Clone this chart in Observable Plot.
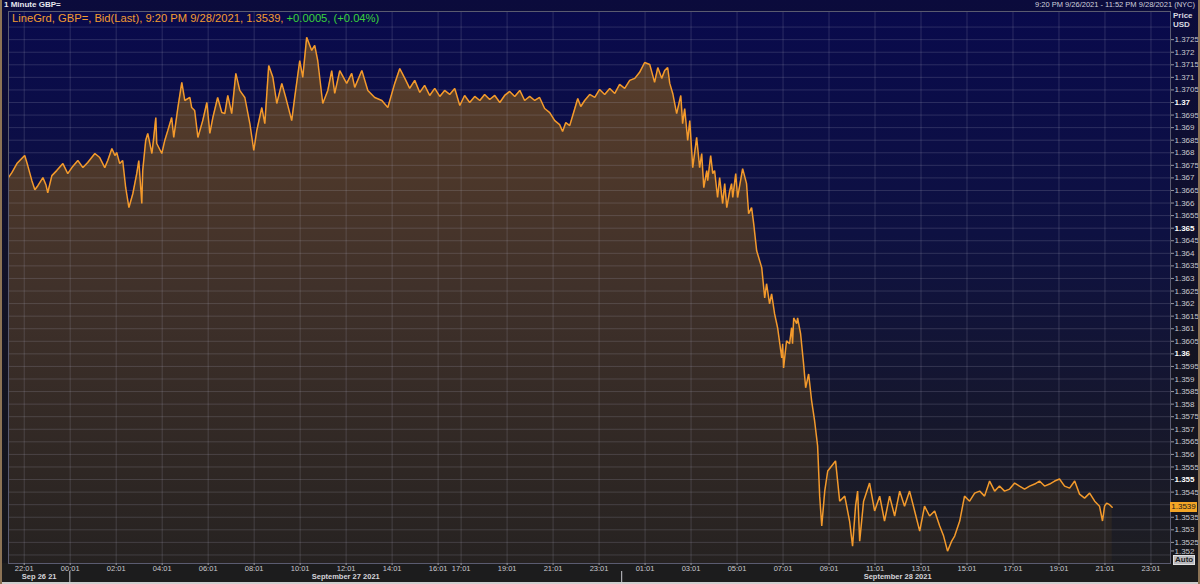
<!DOCTYPE html>
<html><head><meta charset="utf-8">
<script src="https://cdn.jsdelivr.net/npm/d3@7"></script>
<script src="https://cdn.jsdelivr.net/npm/@observablehq/plot@0.6"></script>
<style>
html,body{margin:0;padding:0;width:1200px;height:584px;overflow:hidden;background:#0c0c34;}
#wrap{position:relative;width:1200px;height:584px;background:linear-gradient(#0b0b3c,#131322 60%,#17171b);font-family:"Liberation Sans",Arial,sans-serif;}
#chart{position:absolute;left:0;top:0;}
#chart svg{display:block;overflow:visible}
.ov{position:absolute;white-space:nowrap;line-height:1;}
</style></head><body>
<div id="wrap">
  <div class="ov" style="left:0;top:563px;width:1200px;height:19px;background:#1c1c1d;"></div>
  <div id="chart"></div>
  <div class="ov" style="left:0;top:582px;width:1200px;height:2px;background:#cfcfcf;"></div>
  <div class="ov" style="left:0;top:0;width:2px;height:584px;background:#8c7355;"></div>
  <div class="ov" style="left:1198px;top:0;width:2px;height:584px;background:#8c7355;"></div>
  <div class="ov" style="left:4px;top:1px;font-size:8px;font-weight:bold;color:#e6e6ee;">1 Minute GBP=</div>
  <div class="ov" style="right:5px;top:1px;font-size:7.5px;color:#cfd0dc;">9:20 PM 9/26/2021 - 11:52 PM 9/28/2021 (NYC)</div>
  <div class="ov" style="left:1173px;top:12px;font-size:8px;font-weight:bold;color:#d8d8e0;">Price</div>
  <div class="ov" style="left:1173px;top:21px;font-size:8px;font-weight:bold;color:#d8d8e0;">USD</div>
  <div class="ov" style="left:12px;top:13px;font-size:11.2px;color:#f29b30;">LineGrd, GBP=, Bid(Last), 9:20 PM 9/28/2021, 1.3539, <span style="color:#3ad23a">+0.0005, (+0.04%)</span></div>
  <div class="ov" style="left:1173px;top:555px;font-size:8px;font-weight:bold;color:#1e1e1e;background:#b9b9bd;border:1px solid #e0e0e0;padding:0 1px;">Auto</div>
  <div class="ov" id="tag" style="left:1170px;width:27px;height:10px;font-size:8px;color:#1a1a1a;background:#f3a526;text-align:center;line-height:10px;">1.3539</div>
</div>
<script>
// [hours since 2021-09-27 00:00 (NYC), bid price]
const sessionSep26 = [[-2.67,1.36701],[-2.52,1.36721],[-2.30,1.36757],[-2.09,1.36777],[-1.96,1.36789],[-1.83,1.36749],[-1.65,1.36689],[-1.52,1.36653],[-1.39,1.36669],[-1.17,1.36701],
[-1.04,1.36673],[-0.96,1.36641],[-0.78,1.36709],[-0.57,1.36729],[-0.30,1.36757],[-0.09,1.36717]];
const sessionSep27 = [[0.09,1.36741],[0.35,1.36769],[0.57,1.36741],[0.78,1.36761],
[1.09,1.36797],[1.30,1.36781],[1.52,1.36741],[1.65,1.36769],[1.83,1.36817],[1.96,1.36789],[2.04,1.36801],[2.17,1.36757],[2.30,1.36769],[2.43,1.36661],
[2.57,1.36582],[2.74,1.36637],[2.91,1.36717],[3.00,1.36769],[3.13,1.36598],[3.17,1.36729],[3.30,1.36849],[3.39,1.36877],[3.57,1.36797],[3.65,1.36861],
[3.74,1.36940],[3.78,1.36837],[4.00,1.36797],[4.13,1.36849],[4.26,1.36888],[4.43,1.36940],[4.52,1.36861],[4.70,1.36980],[4.87,1.37080],[5.00,1.37008],
[5.22,1.37020],[5.30,1.36980],[5.43,1.36968],[5.57,1.36861],[5.78,1.36928],[5.96,1.37000],[6.09,1.36877],[6.22,1.36940],[6.43,1.37020],[6.61,1.36960],
[6.74,1.36956],[6.87,1.37028],[7.04,1.36956],[7.22,1.37116],[7.39,1.37048],[7.61,1.37020],[7.83,1.36916],[8.00,1.36809],[8.13,1.36888],[8.35,1.36980],
[8.48,1.36916],[8.65,1.37147],[8.83,1.37100],[9.00,1.36996],[9.22,1.37076],[9.39,1.37020],[9.65,1.36928],[9.78,1.37020],[10.00,1.37167],[10.13,1.37100],
[10.30,1.37259],[10.52,1.37207],[10.65,1.37227],[10.78,1.37167],[11.00,1.36996],[11.22,1.37048],[11.39,1.37127],[11.52,1.37036],[11.74,1.37127],[12.04,1.37076],
[12.26,1.37116],[12.39,1.37060],[12.70,1.37127],[12.96,1.37048],[13.26,1.37020],[13.57,1.37008],[13.83,1.36980],[14.13,1.37076],[14.35,1.37135],
[14.57,1.37096],[14.78,1.37056],[15.00,1.37088],[15.22,1.37040],[15.43,1.37068],[15.65,1.37028],[15.87,1.37056],[16.09,1.37024],[16.30,1.37048],[16.52,1.37032],
[16.74,1.37056],[16.96,1.36988],[17.17,1.37028],[17.39,1.37000],[17.61,1.37024],[17.83,1.37008],[18.04,1.37032],[18.26,1.37012],[18.48,1.37028],[18.70,1.37000],
[18.91,1.37028],[19.13,1.37044],[19.35,1.37024],[19.57,1.37048],[19.78,1.37008],[20.00,1.37024],[20.22,1.37008],[20.43,1.37020],[20.65,1.36976],[20.87,1.36960],
[21.09,1.36928],[21.30,1.36912],[21.43,1.36885],[21.57,1.36920],[21.74,1.36908],[21.91,1.36960],[22.09,1.37016],[22.22,1.36984],[22.39,1.37008],[22.61,1.37032],
[22.83,1.37020],[23.04,1.37052],[23.26,1.37032],[23.48,1.37056],[23.70,1.37036],[23.91,1.37072]];
const sessionSep28 = [[24.13,1.37056],[24.35,1.37088],[24.57,1.37096],[24.78,1.37120],[25.00,1.37159],[25.22,1.37151],
[25.43,1.37080],[25.57,1.37139],[25.74,1.37096],[25.87,1.37127],[26.00,1.37139],[26.09,1.37076],[26.22,1.37036],[26.39,1.36956],[26.57,1.37028],[26.65,1.36916],
[26.74,1.36976],[26.87,1.36849],[26.96,1.36928],[27.09,1.36741],[27.26,1.36861],[27.39,1.36741],[27.48,1.36797],[27.57,1.36661],[27.70,1.36729],[27.74,1.36689],
[27.87,1.36789],[27.96,1.36717],[28.04,1.36729],[28.17,1.36622],[28.26,1.36701],[28.39,1.36598],[28.48,1.36677],[28.57,1.36582],[28.70,1.36649],[28.78,1.36677],
[28.83,1.36622],[28.96,1.36717],[29.04,1.36622],[29.26,1.36737],[29.43,1.36677],[29.52,1.36558],[29.65,1.36582],[29.74,1.36518],[29.87,1.36410],[30.09,1.36343],
[30.22,1.36223],[30.30,1.36279],[30.43,1.36199],[30.52,1.36239],[30.65,1.36159],[30.78,1.36104],[30.96,1.35984],[31.00,1.36040],[31.04,1.35944],[31.17,1.36052],
[31.30,1.36040],[31.39,1.36104],[31.43,1.36040],[31.48,1.36143],[31.61,1.36120],[31.65,1.36143],[31.78,1.36080],[31.91,1.35960],[32.00,1.35865],[32.13,1.35920],
[32.26,1.35813],[32.39,1.35733],[32.52,1.35634],[32.61,1.35434],[32.70,1.35315],[32.83,1.35454],[32.96,1.35534],[33.13,1.35554],[33.30,1.35574],[33.48,1.35414],
[33.70,1.35434],[33.91,1.35335],[34.04,1.35235],[34.17,1.35394],[34.26,1.35454],[34.35,1.35255],[34.52,1.35414],[34.78,1.35486],[35.00,1.35375],[35.22,1.35434],
[35.43,1.35335],[35.65,1.35434],[35.87,1.35355],[36.09,1.35454],[36.30,1.35394],[36.52,1.35454],[36.74,1.35375],[36.96,1.35295],[37.17,1.35394],[37.39,1.35355],
[37.61,1.35375],[37.83,1.35315],[38.00,1.35275],[38.17,1.35215],[38.35,1.35255],[38.48,1.35275],[38.70,1.35335],[38.91,1.35434],[39.13,1.35414],[39.35,1.35446],
[39.57,1.35454],[39.78,1.35434],[40.00,1.35494],[40.22,1.35454],[40.43,1.35474],[40.65,1.35454],[40.87,1.35462],[41.09,1.35486],[41.30,1.35474],[41.52,1.35462],
[41.74,1.35474],[41.96,1.35482],[42.17,1.35494],[42.39,1.35474],[42.61,1.35482],[42.83,1.35494],[43.04,1.35502],[43.26,1.35474],[43.48,1.35466],[43.70,1.35494],
[43.91,1.35442],[44.13,1.35426],[44.35,1.35446],[44.57,1.35414],[44.78,1.35394],[44.91,1.35335],[45.00,1.35394],[45.09,1.35406],[45.22,1.35400],[45.33,1.3539]];

const lastPrice = 1.3539;
const yTickLabels = [1.3525,1.353,1.3535,1.3545,1.3555,1.356,1.3565,1.357,1.3575,1.358,1.3585,1.359,1.3595,1.3605,1.361,1.3615,1.362,1.3625,1.363,1.3635,1.364,1.3645,1.3655,1.366,1.3665,1.367,1.3675,1.368,1.3685,1.369,1.3695,1.3705,1.371,1.3715,1.372,1.3725];
const yTickBottom = [1.352];
const yTickBold = [1.355,1.36,1.365,1.37];
const yGridLines = [1.352,1.3525,1.353,1.3535,1.354,1.3545,1.355,1.3555,1.356,1.3565,1.357,1.3575,1.358,1.3585,1.359,1.3595,1.36,1.3605,1.361,1.3615,1.362,1.3625,1.363,1.3635,1.364,1.3645,1.365,1.3655,1.366,1.3665,1.367,1.3675,1.368,1.3685,1.369,1.3695,1.37,1.3705,1.371,1.3715,1.372,1.3725,1.373];
const xTickTimes = ["2021-09-26T22:01Z","2021-09-27T00:01Z","2021-09-27T02:01Z","2021-09-27T04:01Z","2021-09-27T06:01Z","2021-09-27T08:01Z","2021-09-27T10:01Z","2021-09-27T12:01Z","2021-09-27T14:01Z","2021-09-27T16:01Z","2021-09-27T17:01Z","2021-09-27T19:01Z","2021-09-27T21:01Z","2021-09-27T23:01Z","2021-09-28T01:01Z","2021-09-28T03:01Z","2021-09-28T05:01Z","2021-09-28T07:01Z","2021-09-28T09:01Z","2021-09-28T11:01Z","2021-09-28T13:01Z","2021-09-28T15:01Z","2021-09-28T17:01Z","2021-09-28T19:01Z","2021-09-28T21:01Z","2021-09-28T23:01Z"];
const dateLabels = [["2021-09-26T22:40Z","Sep 26 21"],["2021-09-27T12:00Z","September 27 2021"],["2021-09-28T12:00Z","September 28 2021"]];
const daySeparators = ["2021-09-27T00:00Z","2021-09-28T00:00Z"];
const xDomain = ["2021-09-26T21:20Z","2021-09-28T23:52Z"];
const yDomain = [1.35166,1.37362];

const t0 = Date.UTC(2021,8,27,0,0);
const data = [...sessionSep26,...sessionSep27,...sessionSep28].map(([h,p]) => ({t:new Date(t0 + h*3600000), p}));
const xTicks = xTickTimes.map(s => new Date(s));
const fmtY = d => String(+d.toFixed(4));
const axisStyle = {anchor:"right", tickFormat:fmtY, tickSize:3, tickPadding:1, stroke:"#9a9aa0", label:null};

const chart = Plot.plot({
  width:1200, height:584,
  marginLeft:8, marginRight:30, marginTop:11, marginBottom:21,
  style:{background:"transparent", color:"#c9c9cf", fontFamily:"'Liberation Sans', Arial, sans-serif", fontSize:"8px", overflow:"visible"},
  x:{type:"utc", domain:xDomain.map(s=>new Date(s))},
  y:{domain:yDomain},
  marks:[
    Plot.frame({fill:"url(#bgGrad)"}),
    Plot.areaY(data,{x:"t", y:"p", fill:"url(#areaGrad)", clip:true}),
    Plot.gridY(yGridLines,{stroke:"#b4b4c8", strokeOpacity:0.2, strokeWidth:1}),
    Plot.gridX(xTicks,{stroke:"#b4b4c8", strokeOpacity:0.2, strokeWidth:1}),
    Plot.lineY(data,{x:"t", y:"p", stroke:"#f39a2c", strokeWidth:1.5, strokeLinejoin:"miter", clip:true}),
    Plot.frame({stroke:"#5a5b70"}),
    Plot.axisX(xTicks,{tickFormat:d3.utcFormat("%H:%M"), tickSize:2, tickPadding:0, fontSize:7.5, stroke:"#9a9aa0", fill:"#c9c9cf", label:null}),
    Plot.axisY(yTickLabels,{...axisStyle, fill:"#c9c9cf"}),
    Plot.axisY(yTickBottom,{...axisStyle, fill:"#c9c9cf", dy:-4}),
    Plot.axisY(yTickBold,{...axisStyle, fill:"#ffffff", fontWeight:"bold"}),
    Plot.text(dateLabels,{x:d=>new Date(d[0]), text:d=>d[1], frameAnchor:"bottom", dy:15.5, fontSize:7.5, fontWeight:"bold", fill:"#d4d4da"}),
    Plot.ruleX(daySeparators.map(s=>new Date(s)),{stroke:"#c9c9cf", insetTop:560, insetBottom:-21})
  ]
});

const svg = d3.select(chart);
const defs = svg.insert("defs",":first-child");
const bg = defs.append("linearGradient").attr("id","bgGrad").attr("gradientUnits","userSpaceOnUse").attr("x1",0).attr("x2",0).attr("y1",11).attr("y2",563);
[[0,"#090a4c"],[0.4,"#0e1142"],[0.75,"#16172c"],[1,"#1e1e22"]].forEach(([o,c])=>bg.append("stop").attr("offset",o).attr("stop-color",c));
const ag = defs.append("linearGradient").attr("id","areaGrad").attr("gradientUnits","userSpaceOnUse").attr("x1",0).attr("x2",0).attr("y1",11).attr("y2",563);
[[0,"#5e402a"],[0.5,"#40312a"],[1,"#262221"]].forEach(([o,c])=>ag.append("stop").attr("offset",o).attr("stop-color",c));

document.getElementById("chart").appendChild(chart);
const yPos = chart.scale("y").apply(lastPrice);
document.getElementById("tag").style.top = (yPos - 5) + "px";
</script>
</body></html>
